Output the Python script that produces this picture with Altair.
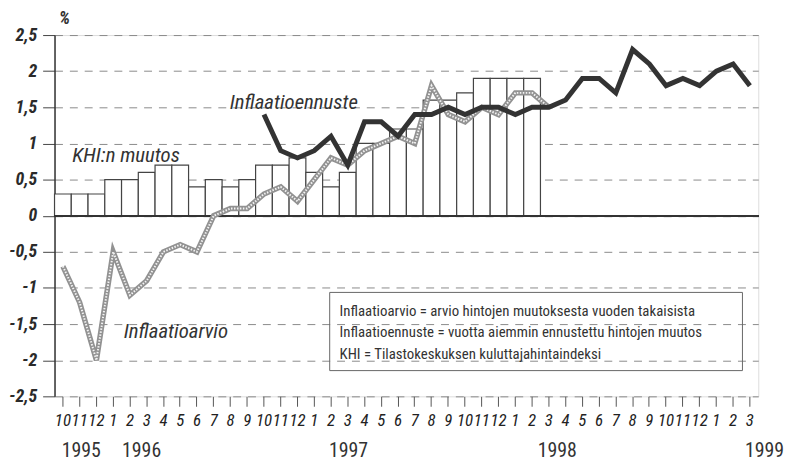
import altair as alt
import pandas as pd

# ---- data -------------------------------------------------------------
months = (
    [f"1995-{m:02d}" for m in (10, 11, 12)]
    + [f"1996-{m:02d}" for m in range(1, 13)]
    + [f"1997-{m:02d}" for m in range(1, 13)]
    + [f"1998-{m:02d}" for m in range(1, 13)]
    + [f"1999-{m:02d}" for m in (1, 2, 3)]
)

# KHI:n muutos (bars), Oct 1995 - Feb 1998
khi = [0.3, 0.3, 0.3, 0.5, 0.5, 0.6, 0.7, 0.7, 0.4, 0.5, 0.4, 0.5,
       0.7, 0.7, 0.8, 0.6, 0.4, 0.6, 1.0, 1.0, 1.2, 1.2, 1.6, 1.6,
       1.7, 1.9, 1.9, 1.9, 1.9]
# Inflaatioarvio (grey line), Oct 1995 - Mar 1998
arvio = [-0.7, -1.2, -2.0, -0.5, -1.1, -0.9, -0.5, -0.4, -0.5, 0.0, 0.1, 0.1,
         0.3, 0.4, 0.2, 0.5, 0.8, 0.7, 0.9, 1.0, 1.1, 1.0, 1.8, 1.4,
         1.3, 1.5, 1.4, 1.7, 1.7, 1.5]
# Inflaatioennuste (black line), Oct 1996 - Mar 1999
ennuste = [1.4, 0.9, 0.8, 0.9, 1.1, 0.7, 1.3, 1.3, 1.1, 1.4, 1.4, 1.5,
           1.4, 1.5, 1.5, 1.4, 1.5, 1.5, 1.6, 1.9, 1.9, 1.7, 2.3, 2.1,
           1.8, 1.9, 1.8, 2.0, 2.1, 1.8]

y_ticks = [-2.5, -2, -1.5, -1, -0.5, 0, 0.5, 1, 1.5, 2, 2.5]
years = ["1995", "1996", "1997", "1998", "1999"]
legend_lines = [
    "Inflaatioarvio = arvio hintojen muutoksesta vuoden takaisista",
    "Inflaatioennuste = vuotta aiemmin ennustettu hintojen muutos",
    "KHI = Tilastokeskuksen kuluttajahintaindeksi",
]

df_khi = pd.DataFrame({"month": months[:len(khi)], "value": khi})
df_arvio = pd.DataFrame({"month": months[:len(arvio)], "value": arvio})
df_enn = pd.DataFrame({"month": months[12:12 + len(ennuste)], "value": ennuste})

# ---- styling ----------------------------------------------------------
FONT = "Roboto Condensed"
W, H = 711, 365
DARK = "#333333"
TXT = "#333333"

xscale = alt.Scale(type="band", domain=months, paddingInner=0, paddingOuter=0)
yscale = alt.Scale(domain=[-2.5, 2.5], nice=False, zero=False)

xaxis = alt.Axis(
    title=None, labelAngle=0, grid=False,
    labelExpr="'' + toNumber(split(datum.value, '-')[1])",
    labelFont=FONT, labelFontSize=17, labelFontStyle="italic",
    labelColor="#222", labelPadding=6, tickSize=10, tickColor="#555",
    domain=False, labelOverlap=False, labelBound=False, labelFlush=False,
)
yaxis = alt.Axis(
    title=None, values=y_ticks, tickCount=30,
    labelExpr="replace(toString(datum.value), '.', ',')",
    labelFont=FONT, labelFontSize=18, labelFontStyle="italic", labelFontWeight="bold",
    labelColor="#2a2a2a", labelPadding=6, tickSize=12, tickColor="#444",
    labelOverlap=False, labelBound=False, labelFlush=False,
    domainColor="#333", domainWidth=1.5,
    grid=True, gridDash=[8, 7], gridColor="#8a8a8a", gridWidth=1,
)

X = alt.X("month:N", scale=xscale, axis=xaxis)
Y = alt.Y("value:Q", scale=yscale, axis=yaxis)

bars = alt.Chart(df_khi).mark_bar(fill="white", stroke="#444", strokeWidth=1.2).encode(x=X, y=Y)

zero = alt.Chart(df_khi).mark_rule(color="#333", strokeWidth=1.5).encode(y=alt.datum(0))

grey_outer = alt.Chart(df_arvio).mark_line(color="#929292", strokeWidth=5.5).encode(x=X, y=Y)
grey_inner = alt.Chart(df_arvio).mark_line(color="#f4f4f4", strokeWidth=2, strokeDash=[1.5, 1.5]).encode(x=X, y=Y)

black = alt.Chart(df_enn).mark_line(color=DARK, strokeWidth=5).encode(x=X, y=Y)

# ---- annotations ------------------------------------------------------
def label(text, x, y, size=18, style="italic", weight="normal", align="left"):
    return alt.Chart(pd.DataFrame({"t": [text]})).mark_text(
        font=FONT, fontSize=size, fontStyle=style, fontWeight=weight,
        align=align, baseline="middle", color=TXT,
    ).encode(text="t:N", x=alt.value(x), y=alt.value(y))

annots = [
    label("%", 10, -16, size=18, weight="bold", align="center"),
    label("Inflaatioennuste", 177, 69, size=21),
    label("KHI:n muutos", 18, 122, size=21),
    label("Inflaatioarvio", 70, 300, size=21),
]

year_pos = [(27, "center"), (88, "center"), (297, "center"), (508, "center"), (737, "right")]
for t, (xx, al) in zip(years, year_pos):
    annots.append(label(t, xx, 420, size=20, style="normal", align=al))

legend_box = alt.Chart(pd.DataFrame({"a": [0]})).mark_rect(
    fill=None, stroke="#666", strokeWidth=1
).encode(x=alt.value(278), x2=alt.value(695), y=alt.value(260), y2=alt.value(339))

legend_y = [279, 300, 322]
for t, yy in zip(legend_lines, legend_y):
    annots.append(label(t, 288, yy, size=15, style="normal"))

chart = alt.layer(
    bars, zero, grey_outer, grey_inner, black, legend_box, *annots
).properties(
    width=W, height=H,
    autosize=alt.AutoSizeParams(type="none"),
    padding={"left": 47, "top": 25, "right": 27, "bottom": 65},
).configure_view(
    stroke="#444", strokeWidth=1.3
).configure(background="white")

chart.save("out.html", embed_options={"renderer": "svg", "actions": False})
